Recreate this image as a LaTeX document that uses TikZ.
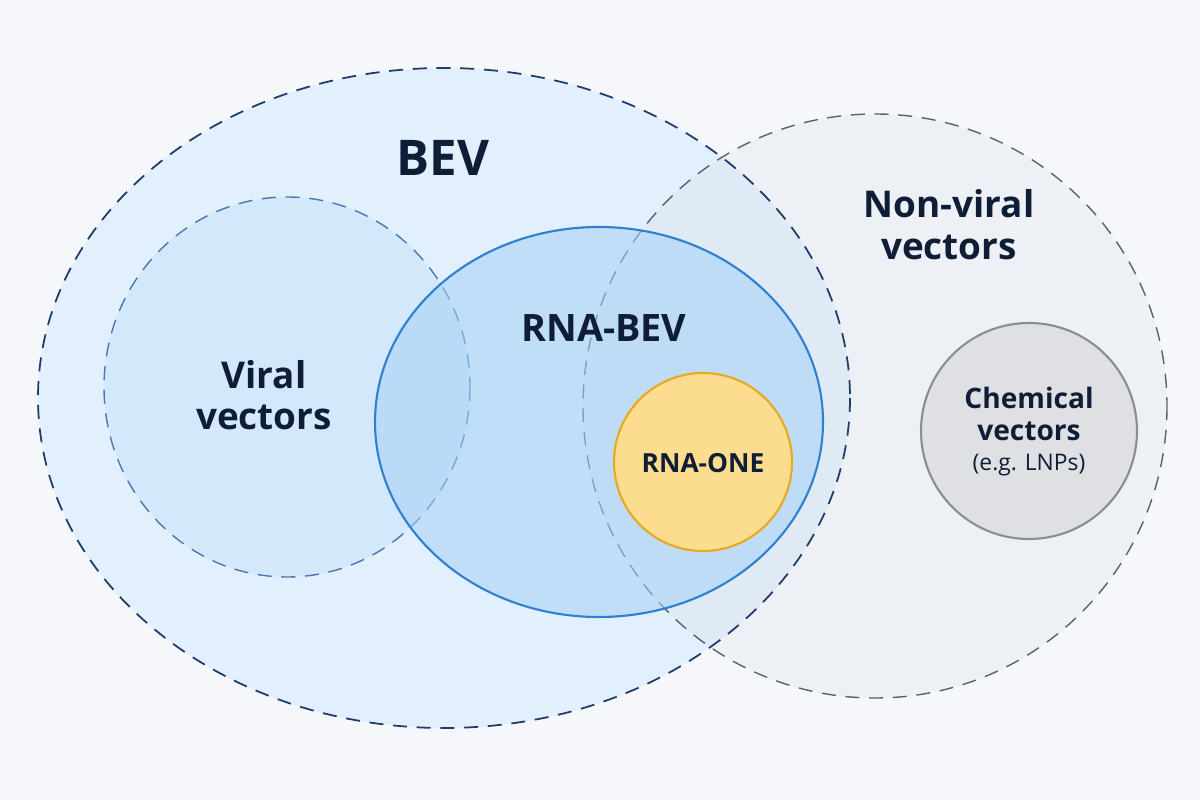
\documentclass[tikz,border=0pt]{standalone}
\usepackage{fontspec}
\setmainfont{Open Sans}
\definecolor{bgcol}{HTML}{F5F7FA}
\definecolor{inkcol}{HTML}{0F1E36}
\definecolor{bevfill}{HTML}{E2EFFC}
\definecolor{bevline}{HTML}{1E3A6E}
\definecolor{viralfill}{HTML}{C4E0FA}
\definecolor{viralline}{HTML}{4A78B0}
\definecolor{nvfill}{HTML}{D8DDE4}
\definecolor{nvline}{HTML}{5A6272}
\definecolor{rnafill}{HTML}{A6D1F7}
\definecolor{rnaline}{HTML}{2F80D0}
\definecolor{onefill}{HTML}{FCDD8F}
\definecolor{oneline}{HTML}{E8A820}
\definecolor{chemfill}{HTML}{DFE0E3}
\definecolor{chemline}{HTML}{8A8D93}

\begin{document}
\begin{tikzpicture}[x=0.02cm,y=-0.02cm,
  tag/.style={text=inkcol,font=\bfseries,align=center,inner sep=0pt},
  ring/.style={line width=1pt,dash pattern=on 8pt off 5.5pt}]
% canvas
\fill[bgcol] (0,0) rectangle (1200,800);
% BEV
\fill[bevfill] (444,398) ellipse [x radius=406,y radius=330];
% viral vectors
\fill[viralfill,fill opacity=0.45] (287,387) ellipse [x radius=183,y radius=190];
\draw[viralline,ring,line width=0.8pt] (287,387) ellipse [x radius=183,y radius=190];
% non-viral vectors
\fill[nvfill,fill opacity=0.25] (875,406) circle [radius=292];
\draw[nvline,ring,line width=0.8pt] (875,406) circle [radius=292];
% RNA-BEV
\fill[rnafill,fill opacity=0.55] (599,422) ellipse [x radius=224,y radius=195];
\draw[rnaline,line width=1.2pt] (599,422) ellipse [x radius=224,y radius=195];
\draw[bevline,ring] (444,398) ellipse [x radius=406,y radius=330];
% RNA-ONE
\draw[oneline,fill=onefill,line width=1.2pt] (703,462) circle [radius=89];
% chemical vectors
\draw[chemline,fill=chemfill,line width=1.2pt] (1029,431) circle [radius=108];
% labels
\node[tag,font=\bfseries\fontsize{28}{32}\selectfont] (bev) at (443,158) {BEV};
\node[tag,font=\bfseries\fontsize{21}{24}\selectfont] (nonviral) at (949,225) {Non-viral\\vectors};
\node[tag,font=\bfseries\fontsize{21}{23}\selectfont] (viral) at (264,395) {Viral\\vectors};
\node[tag,font=\bfseries\fontsize{21.5}{24}\selectfont] (rnabev) at (604,328) {RNA-BEV};
\node[tag,font=\bfseries\fontsize{15}{18}\selectfont] (rnaone) at (703,463) {RNA-ONE};
\node[tag,font=\bfseries\fontsize{16}{18.5}\selectfont] (chem) at (1029,414) {Chemical\\vectors};
\node[tag,font=\fontsize{13}{15}\selectfont,anchor=north] (lnp) at (chem.south) [yshift=-7pt] {(e.g. LNPs)};
\end{tikzpicture}
\end{document}
